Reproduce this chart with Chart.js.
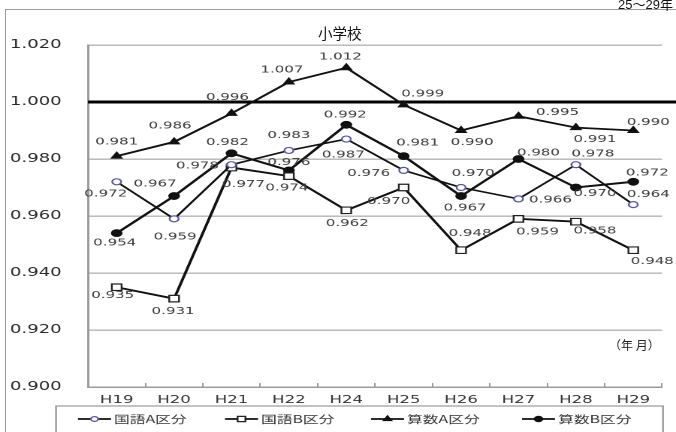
<!DOCTYPE html>
<html lang="ja">
<head>
<meta charset="utf-8">
<title>小学校</title>
<script src="https://cdn.jsdelivr.net/npm/chart.js@4.4.1/dist/chart.umd.min.js"></script>
<style>
  html, body { margin: 0; padding: 0; background: #fff; }
  body { position: relative; width: 676px; height: 432px; overflow: hidden; }
  #frame {
    position: absolute; left: 5px; top: 9px; right: -4px; bottom: -4px;
    border-top: 1.5px solid #9c9c9c; border-left: 1.5px solid #9c9c9c;
  }
  /* the chart is laid out narrow and widened on the page */
  #wrap {
    position: absolute; left: 0; top: 0; width: 450px; height: 432px;
    transform: scaleX(1.5022222); transform-origin: 0 0;
  }
  .txt { position: absolute; white-space: nowrap; line-height: 1; color: #111; }
  #period { right: 3px; top: -6px; font: 13px "Liberation Sans", "Noto Sans CJK JP", sans-serif; }
  #title { left: 318px; top: 22px; font: 14.5px "Noto Sans CJK JP", sans-serif; }
  #unit { left: 609px; top: 336px; font: 12px "Noto Sans CJK JP", sans-serif; color: #222; }
</style>
</head>
<body>
<div id="frame"></div>
<div id="wrap"><canvas id="chart" width="450" height="432"></canvas></div>
<div class="txt" id="period">25〜29年</div>
<div class="txt" id="title">小学校</div>
<div class="txt" id="unit">（年 月）</div>
<script>
// horizontal widening applied to the chart block (see #wrap)
const STRETCH = 676 / 450;

// survey years
const categories = ['H19', 'H20', 'H21', 'H22', 'H24', 'H25', 'H26', 'H27', 'H28', 'H29'];

// series values
const kokugoA = [0.972, 0.959, 0.978, 0.983, 0.987, 0.976, 0.970, 0.966, 0.978, 0.964];
const kokugoB = [0.935, 0.931, 0.977, 0.974, 0.962, 0.970, 0.948, 0.959, 0.958, 0.948];
const sansuA  = [0.981, 0.986, 0.996, 1.007, 1.012, 0.999, 0.990, 0.995, 0.991, 0.990];
const sansuB  = [0.954, 0.967, 0.982, 0.976, 0.992, 0.981, 0.967, 0.980, 0.970, 0.972];

// value axis tick labels and the 1.000 reference level
const yTicks = [0.900, 0.920, 0.940, 0.960, 0.980, 1.000, 1.020];
const referenceLevel = 1.000;

// where each value label sits relative to its point (page pixels: dx, dy)
const offsetsKokugoA = [[-11, 12], [1, 18], [-34, 1], [0, -15], [-3, 16], [-35, 3], [12, -14], [32, 1], [17, -11], [15, -10]];
const offsetsKokugoB = [[-4, 8], [-1, 13], [12, 17], [-2, 12], [1, 13], [-15, 14], [9, -17], [19, 13], [19, 9], [19, 11]];
const offsetsSansuA  = [[0, -14], [-4, -16], [-4, -16], [-7, -12], [-6, -11], [19, -11], [11, 12], [39, -4], [19, 12], [15, -8]];
const offsetsSansuB  = [[-2, 10], [-19, -12], [-4, -11], [0, -8], [-1, -10], [14, -13], [4, 12], [20, -6], [19, 6], [14, -9]];
const labelOffsets = [offsetsKokugoA, offsetsKokugoB, offsetsSansuA, offsetsSansuB];

// legend item start positions along the bottom box (page pixels)
const legendStarts = [78, 225, 371, 522];

const referenceLine = {
  id: 'referenceLine',
  beforeDatasetsDraw(chart) {
    const { ctx, chartArea } = chart;
    const y = chart.scales.y.getPixelForValue(referenceLevel);
    ctx.save();
    ctx.strokeStyle = '#000';
    ctx.lineWidth = 3;
    ctx.beginPath();
    ctx.moveTo(chartArea.left, y);
    ctx.lineTo(chart.width, y);
    ctx.stroke();
    ctx.restore();
  }
};

const valueLabels = {
  id: 'valueLabels',
  afterDatasetsDraw(chart) {
    const { ctx } = chart;
    ctx.save();
    ctx.font = '10px "DejaVu Sans"';
    ctx.fillStyle = '#3c3c3c';
    ctx.textAlign = 'center';
    ctx.textBaseline = 'middle';
    chart.data.datasets.forEach((ds, di) => {
      const meta = chart.getDatasetMeta(di);
      meta.data.forEach((pt, i) => {
        const [dx, dy] = labelOffsets[di][i];
        ctx.fillText(ds.data[i].toFixed(3), pt.x + dx / STRETCH, pt.y + dy);
      });
    });
    ctx.restore();
  }
};

function drawMarker(ctx, ds, x, y) {
  ctx.fillStyle = ds.pointBackgroundColor;
  ctx.strokeStyle = ds.pointBorderColor;
  ctx.lineWidth = ds.pointBorderWidth;
  Chart.helpers.drawPoint(ctx, {
    pointStyle: ds.pointStyle, radius: ds.pointRadius * 0.8,
    borderWidth: ds.pointBorderWidth, rotation: 0
  }, x, y);
}

const bottomLegend = {
  id: 'bottomLegend',
  afterDraw(chart) {
    const { ctx } = chart;
    const top = 406;
    ctx.save();
    ctx.strokeStyle = '#9a9a9a';
    ctx.lineWidth = 1.2;
    ctx.strokeRect(56 / STRETCH, top, (663 - 56) / STRETCH, 40);
    const cy = 419;
    ctx.font = '10.5px "Noto Sans CJK JP"';
    ctx.textBaseline = 'middle';
    ctx.textAlign = 'left';
    chart.data.datasets.forEach((ds, i) => {
      const x0 = legendStarts[i] / STRETCH;
      const len = 33 / STRETCH;
      ctx.strokeStyle = '#111';
      ctx.lineWidth = 1.8;
      ctx.beginPath();
      ctx.moveTo(x0, cy);
      ctx.lineTo(x0 + len, cy);
      ctx.stroke();
      drawMarker(ctx, ds, x0 + len / 2, cy);
      ctx.fillStyle = '#333';
      ctx.fillText(ds.label, x0 + len + 2, cy);
    });
    ctx.restore();
  }
};

new Chart(document.getElementById('chart'), {
  type: 'line',
  data: {
    labels: categories,
    datasets: [
      { label: '国語A区分', data: kokugoA, borderColor: '#111', borderWidth: 1.6,
        pointStyle: 'circle', pointRadius: 3, pointBorderWidth: 1.2,
        pointBorderColor: '#5656a6', pointBackgroundColor: '#fff' },
      { label: '国語B区分', data: kokugoB, borderColor: '#111', borderWidth: 1.9,
        pointStyle: 'rect', pointRadius: 4.6, pointBorderWidth: 1.2,
        pointBorderColor: '#222', pointBackgroundColor: '#fff' },
      { label: '算数A区分', data: sansuA, borderColor: '#111', borderWidth: 1.8,
        pointStyle: 'triangle', pointRadius: 4, pointBorderWidth: 1,
        pointBorderColor: '#111', pointBackgroundColor: '#111' },
      { label: '算数B区分', data: sansuB, borderColor: '#111', borderWidth: 2,
        pointStyle: 'circle', pointRadius: 3.4, pointBorderWidth: 1,
        pointBorderColor: '#111', pointBackgroundColor: '#111' }
    ]
  },
  options: {
    responsive: false,
    animation: false,
    devicePixelRatio: 2,
    layout: { padding: { left: 10 / STRETCH, right: 450 - 662 / STRETCH, top: 45, bottom: 25 } },
    plugins: { legend: { display: false }, title: { display: false }, tooltip: { enabled: false } },
    scales: {
      x: {
        offset: true,
        grid: { display: true, offset: true, drawOnChartArea: false, drawTicks: true,
                tickLength: -4, tickColor: '#9a9a9a', tickWidth: 1 },
        border: { color: '#9a9a9a', width: 1.5 },
        ticks: { font: { family: 'DejaVu Sans', size: 11 }, color: '#333',
                 padding: 10.5, maxRotation: 0, autoSkip: false },
        afterFit(scale) { scale.height = 20; }
      },
      y: {
        min: 0.9, max: 1.02,
        grid: { color: '#b4b4b4', lineWidth: 1.4, drawTicks: false },
        border: { color: '#9a9a9a', width: 1.5 },
        ticks: { font: { family: 'DejaVu Sans', size: 12 }, color: '#2a2a2a',
                 crossAlign: 'far', padding: 0,
                 callback: v => Number(v).toFixed(3) },
        afterBuildTicks(scale) { scale.ticks = yTicks.map(v => ({ value: v })); },
        afterFit(scale) { scale.width = (88 - 10) / STRETCH; }
      }
    }
  },
  plugins: [referenceLine, valueLabels, bottomLegend]
});
</script>
</body>
</html>
